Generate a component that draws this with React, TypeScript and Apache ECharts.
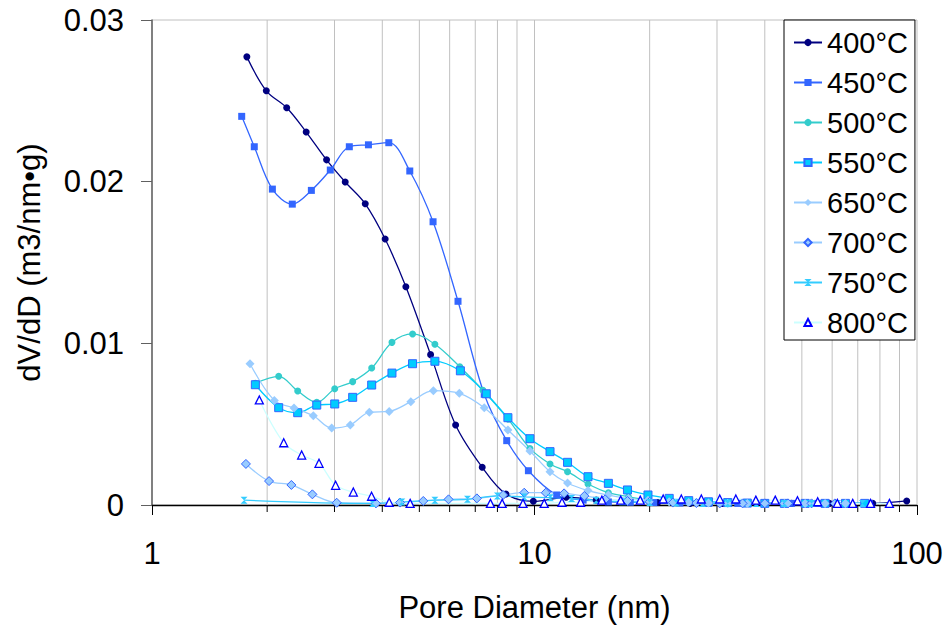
import React, { useEffect, useRef } from "react";
import * as echarts from "echarts";

// ---- data (pore diameter in nm, dV/dD in m3/nm·g) ----
const seriesNames = ["400°C", "450°C", "500°C", "550°C", "650°C", "700°C", "750°C", "800°C"];

const d400 = [1.77, 1.99, 2.25, 2.53, 2.86, 3.2, 3.61, 4.07, 4.61, 5.35, 6.22, 7.3, 8.42, 9.93, 12.1, 14.5, 17.5, 21, 25.5, 31, 38, 47, 59, 76.6, 94];
const v400 = [0.02772, 0.02562, 0.02457, 0.02307, 0.02135, 0.01998, 0.01863, 0.01645, 0.0135, 0.0093, 0.00495, 0.00233, 0.00068, 0.00023, 0.00048, 0.0003, 0.0002, 0.00015, 0.0001, 0.0001, 0.0001, 0.0001, 0.0001, 0.0001, 0.00025];

const d450 = [1.716, 1.851, 2.064, 2.327, 2.61, 2.925, 3.28, 3.68, 4.16, 4.72, 5.43, 6.31, 7.39, 8.46, 9.64, 11.43, 13.4, 15.6, 17.8, 20.5, 24, 28.5, 34, 40, 47, 55, 65, 75];
const v450 = [0.02404, 0.02216, 0.01954, 0.01861, 0.01946, 0.02072, 0.02216, 0.02228, 0.02241, 0.02066, 0.01752, 0.0126, 0.00685, 0.00398, 0.00212, 0.00062, 0.0003, 0.00019, 0.00017, 0.00015, 0.00012, 0.0001, 0.0001, 0.0001, 0.0001, 0.0001, 0.0001, 0.0001];

const d500 = [1.863, 2.144, 2.404, 2.696, 3.004, 3.347, 3.753, 4.24, 4.8, 5.49, 6.38, 7.33, 8.54, 9.73, 10.98, 12.2, 13.8, 15.6, 17.6, 19.8, 22.5, 25.3, 28.5, 32, 36, 40, 45, 51, 57.5, 65, 73];
const v500 = [0.00753, 0.00796, 0.00705, 0.00635, 0.00719, 0.00763, 0.00847, 0.01006, 0.01058, 0.00994, 0.00855, 0.0071, 0.0053, 0.0035, 0.00254, 0.00206, 0.0013, 0.00076, 0.00051, 0.0003, 0.0002, 0.00015, 0.00012, 0.0001, 0.0001, 0.0001, 0.0001, 0.0001, 0.0001, 0.0001, 0.0001];

const d550 = [1.863, 2.144, 2.404, 2.696, 3.004, 3.347, 3.753, 4.24, 4.8, 5.49, 6.4, 7.48, 8.52, 9.73, 10.98, 12.2, 13.8, 15.6, 17.5, 19.8, 22.5, 25.3, 28.5, 32, 36, 40, 45, 51, 57.5, 65, 73];
const v550 = [0.00744, 0.00602, 0.00571, 0.00618, 0.00625, 0.00666, 0.00742, 0.00816, 0.00874, 0.00889, 0.0083, 0.00688, 0.0054, 0.0041, 0.0033, 0.00264, 0.00175, 0.00134, 0.00093, 0.00062, 0.00041, 0.00027, 0.0002, 0.00015, 0.00012, 0.0001, 0.0001, 0.0001, 0.0001, 0.0001, 0.0001];

const d650 = [1.804, 2.088, 2.351, 2.641, 2.95, 3.3, 3.7, 4.17, 4.75, 5.44, 6.36, 7.39, 8.52, 9.73, 10.98, 12.2, 13.8, 15.6, 17.6, 19.8, 22.5, 25.3, 28.5, 32, 36, 40, 45, 51, 57.5, 65];
const v650 = [0.00874, 0.00647, 0.006, 0.00552, 0.00476, 0.00495, 0.00573, 0.00579, 0.00639, 0.00707, 0.00691, 0.00602, 0.00464, 0.00334, 0.00206, 0.00136, 0.00089, 0.00062, 0.0004, 0.0003, 0.0002, 0.00015, 0.00012, 0.0001, 0.0001, 0.0001, 0.0001, 0.0001, 0.0001, 0.0001];

const d700 = [1.76, 2.023, 2.314, 2.626, 3.04, 3.85, 4.45, 5.12, 5.96, 7.07, 8.28, 9.4, 10.7, 11.95, 13.5, 15.3, 17.5, 20, 23, 26.5, 30.5, 35, 40, 46, 53, 61];
const v700 = [0.00254, 0.00148, 0.00124, 0.00066, 0.00014, 0.0001, 0.00015, 0.00025, 0.00035, 0.00041, 0.00062, 0.00076, 0.00076, 0.00072, 0.00056, 0.00035, 0.00025, 0.0002, 0.00015, 0.00012, 0.0001, 0.0001, 0.0001, 0.0001, 0.0001, 0.0001];

const d750 = [1.74, 3.77, 4.5, 5.49, 6.68, 8.0, 9.4, 11, 12.5, 14.5, 17, 20, 23.5, 27.5, 32, 38, 45, 53, 62, 72];
const v750 = [0.0003, 0.0001, 0.00018, 0.0003, 0.00035, 0.00056, 0.0005, 0.00045, 0.0004, 0.0003, 0.0002, 0.00015, 0.00012, 0.0001, 0.0001, 0.0001, 0.0001, 0.0001, 0.0001, 0.0001];

const d800 = [1.908, 2.21, 2.462, 2.733, 3.02, 3.36, 3.75, 4.17, 4.73, 7.67, 8.23, 9.33, 10.6, 11.8, 13.2, 15.0, 16.8, 18.9, 21.7, 24.2, 27.3, 30.5, 33.6, 37.9, 42.6, 48.7, 55, 61.9, 67.9, 75.6, 84.7];
const v800 = [0.0065, 0.00385, 0.00309, 0.00258, 0.00122, 0.0008, 0.00054, 0.00017, 0.0001, 0.0001, 0.0001, 0.0001, 0.0001, 0.00017, 0.00017, 0.0003, 0.0003, 0.0003, 0.00037, 0.00037, 0.00037, 0.00037, 0.00037, 0.0003, 0.0003, 0.00026, 0.0002, 0.0001, 0.0001, 0.0001, 0.0001];

const xTickLabels = ["1", "10", "100"];
const yTicks = [0, 0.01, 0.02, 0.03];
const minorGridValues = [2, 3, 4, 5, 6, 7, 8, 9, 20, 30, 40, 50, 60, 70, 80, 90];
const majorGridValues = [10];

const FONT = "'Liberation Sans', Arial, sans-serif";

function pairs(xs: number[], ys: number[]) {
  return xs.map((x, i) => [x, ys[i]]);
}

export default function App() {
  const ref = useRef<HTMLDivElement>(null);

  useEffect(() => {
    if (!ref.current) return;
    const chart = echarts.init(ref.current, null, { renderer: "svg" });
    const Y_MAX = yTicks[yTicks.length - 1];

    const lineBase = (name: string, xs: number[], ys: number[], lineColor: string, symbol: string, size: number, item: any, width = 1.3) => ({
      type: "line",
      name,
      data: pairs(xs, ys),
      smooth: 0.35,
      symbol,
      symbolSize: size,
      showSymbol: true,
      lineStyle: { color: lineColor, width },
      itemStyle: item,
      z: 3,
    });

    const option: any = {
      animation: false,
      backgroundColor: "#fff",
      grid: {
        left: 152,
        top: 20,
        right: 29,
        bottom: 126,
        show: true,
        borderColor: "#c0c0c0",
        borderWidth: 1,
        backgroundColor: "transparent",
      },
      legend: {
        data: seriesNames,
        orient: "vertical",
        left: 784,
        top: 20,
        backgroundColor: "#fff",
        borderColor: "#000",
        borderWidth: 1,
        padding: [8, 7, 3, 9],
        itemGap: 11,
        itemWidth: 28,
        itemHeight: 9,
        textStyle: { fontSize: 29, fontFamily: FONT, color: "#000" },
        z: 10,
      },
      xAxis: {
        type: "log",
        logBase: 10,
        min: 1,
        max: 100,
        name: "Pore Diameter (nm)",
        nameLocation: "middle",
        nameGap: 87,
        nameTextStyle: { fontSize: 31, fontFamily: FONT, color: "#000" },
        axisLine: { show: true, lineStyle: { color: "#000", width: 1.3 } },
        axisTick: { show: true, length: 10, lineStyle: { color: "#000" } },
        axisLabel: {
          fontSize: 31,
          fontFamily: FONT,
          color: "#000",
          margin: 33,
          formatter: (v: number) => {
            const idx = Math.round(Math.log10(v));
            return xTickLabels[idx] ?? String(v);
          },
        },
        splitLine: { show: false },
      },
      yAxis: {
        type: "value",
        min: 0,
        max: Y_MAX,
        interval: 0.01,
        name: "dV/dD (m3/nm•g)",
        nameLocation: "middle",
        nameRotate: 90,
        nameGap: 107,
        nameTextStyle: { fontSize: 31, fontFamily: FONT, color: "#000" },
        axisLine: { show: true, lineStyle: { color: "#606060", width: 1.5 } },
        axisTick: { show: true, length: 11, lineStyle: { color: "#606060" } },
        axisLabel: {
          fontSize: 31,
          fontFamily: FONT,
          color: "#000",
          margin: 28,
          formatter: (v: number) => (v === 0 ? "0" : v.toFixed(2)),
        },
        splitLine: { show: false },
      },
      series: [
        {
          type: "custom",
          name: "gridlines",
          silent: true,
          clip: false,
          z: 1,
          data: [...minorGridValues.map((v) => [v, 1]), ...majorGridValues.map((v) => [v, 0])],
          renderItem: (params: any, api: any) => {
            const v = api.value(0);
            const isMinor = api.value(1) === 1;
            const top = api.coord([v, Y_MAX]);
            const bot = api.coord([v, 0]);
            const children: any[] = [
              {
                type: "line",
                shape: { x1: top[0], y1: top[1], x2: bot[0], y2: bot[1] },
                style: { stroke: "#c0c0c0", lineWidth: 1 },
              },
            ];
            if (isMinor) {
              children.push({
                type: "line",
                shape: { x1: bot[0], y1: bot[1], x2: bot[0], y2: bot[1] + 7 },
                style: { stroke: "#000", lineWidth: 1 },
              });
            }
            return { type: "group", children };
          },
        },
        lineBase(seriesNames[0], d400, v400, "#000080", "circle", 7, { color: "#000080" }),
        lineBase(seriesNames[1], d450, v450, "#3366FF", "rect", 7, { color: "#3366FF" }),
        lineBase(seriesNames[2], d500, v500, "#33CCCC", "circle", 7, { color: "#33CCCC" }),
        lineBase(seriesNames[3], d550, v550, "#00CCFF", "rect", 8, { color: "#00CCFF", borderColor: "#3366FF", borderWidth: 1 }),
        lineBase(seriesNames[4], d650, v650, "#99CCFF", "diamond", 9, { color: "#99CCFF" }),
        lineBase(seriesNames[5], d700, v700, "#99CCFF", "diamond", 9, { color: "#99CCFF", borderColor: "#3366FF", borderWidth: 1 }),
        lineBase(seriesNames[6], d750, v750, "#33CCFF", "path://M0,0L10,0L0,10L10,10Z", 7, { color: "#33CCFF" }),
        lineBase(seriesNames[7], d800, v800, "#CCFFFF", "triangle", 8, { color: "#FFFFFF", borderColor: "#0000FF", borderWidth: 1.3 }),
      ],
    };

    chart.setOption(option);
    return () => chart.dispose();
  }, []);

  return (
    <div
      ref={ref}
      style={{ position: "fixed", left: 0, top: 0, width: 946, height: 631, background: "#fff" }}
    />
  );
}
